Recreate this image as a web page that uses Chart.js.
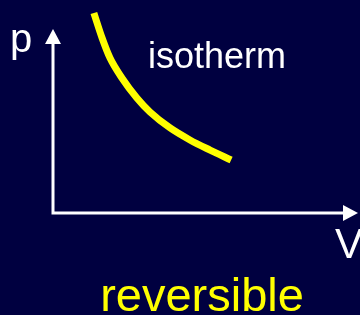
<!DOCTYPE html>
<html lang="en">
<head>
    <meta charset="UTF-8">
    <title>Isotherm</title>
    <script src="https://cdn.jsdelivr.net/npm/chart.js"></script>
    <style>
        html, body { margin: 0; padding: 0; background: #000040; }
        canvas { display: block; }
    </style>
</head>
<body>
    <canvas id="isoChart" width="360" height="315"></canvas>
    <script>
        // volume / pressure (arbitrary units, axis runs 0..10)
        const volume = [1.34, 1.61, 1.87, 2.26, 2.75, 3.18, 3.84, 4.49, 5.15, 5.84];
        const pressure = [10.87, 9.51, 8.42, 7.34, 6.25, 5.49, 4.62, 3.97, 3.42, 2.88];
        const axisLabels = ['V', 'p'];
        const curveLabel = 'isotherm';
        const caption = 'reversible';

        const points = volume.map((v, i) => ({ x: v, y: pressure[i] }));

        // background, arrows and texts
        const decor = {
            id: 'decor',
            beforeDraw(chart) {
                const c = chart.ctx;
                c.save();
                c.fillStyle = '#000040';
                c.fillRect(0, 0, chart.width, chart.height);
                c.restore();
            },
            beforeDatasetsDraw(chart) {
                const c = chart.ctx;
                const xs = chart.scales.x, ys = chart.scales.y;
                const x0 = xs.getPixelForValue(0), xEnd = xs.getPixelForValue(10);
                const y0 = ys.getPixelForValue(0), yEnd = ys.getPixelForValue(10);
                c.save();
                c.strokeStyle = '#ffffff';
                c.fillStyle = '#ffffff';
                c.lineWidth = 3;
                c.beginPath();
                c.moveTo(x0, yEnd + 10);
                c.lineTo(x0, y0);
                c.lineTo(xEnd - 10, y0);
                c.stroke();
                // arrow heads
                c.beginPath();
                c.moveTo(x0, yEnd);
                c.lineTo(x0 - 8, yEnd + 15);
                c.lineTo(x0 + 8, yEnd + 15);
                c.closePath();
                c.fill();
                c.beginPath();
                c.moveTo(xEnd, y0);
                c.lineTo(xEnd - 15, y0 - 8);
                c.lineTo(xEnd - 15, y0 + 8);
                c.closePath();
                c.fill();

                c.textBaseline = 'alphabetic';
                c.font = '40px "Liberation Sans", Arial, sans-serif';
                c.textAlign = 'left';
                c.fillText(axisLabels[1], 10, 52);
                c.font = '42px "Liberation Sans", Arial, sans-serif';
                c.fillText(axisLabels[0], 335, 258);
                c.font = '36px "Liberation Sans", Arial, sans-serif';
                c.fillText(curveLabel, 148, 68);
                c.fillStyle = '#ffff00';
                c.textAlign = 'center';
                c.font = '47px "Liberation Sans", Arial, sans-serif';
                c.fillText(caption, 202, 311);
                c.restore();
            }
        };

        new Chart(document.getElementById('isoChart'), {
            type: 'line',
            data: {
                datasets: [{
                    data: points,
                    borderColor: '#ffff00',
                    borderWidth: 7,
                    borderCapStyle: 'butt',
                    pointRadius: 0,
                    cubicInterpolationMode: 'monotone',
                    fill: false,
                    clip: false
                }]
            },
            options: {
                responsive: false,
                animation: false,
                layout: { padding: { left: 53, right: 2, top: 29, bottom: 102 } },
                scales: {
                    x: { type: 'linear', min: 0, max: 10, display: false },
                    y: { type: 'linear', min: 0, max: 10, display: false }
                },
                plugins: {
                    legend: { display: false },
                    tooltip: { enabled: false }
                }
            },
            plugins: [decor]
        });
    </script>
</body>
</html>
